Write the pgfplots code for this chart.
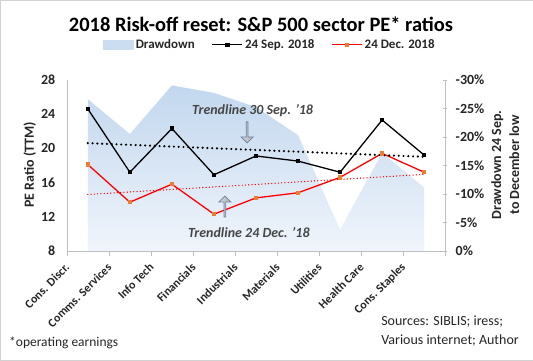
\documentclass[border=0pt]{standalone}
\usepackage{pgfplots}
\pgfplotsset{compat=1.18}
\usepackage{fontspec}
\setmainfont{Carlito}
\usetikzlibrary{shapes.arrows}
\definecolor{ddtop}{HTML}{C2D7EE}
\definecolor{ddbot}{HTML}{F0F5FB}
\definecolor{axgray}{HTML}{BFBFBF}
\definecolor{mkorange}{HTML}{ED7D31}
\definecolor{txtgray}{HTML}{262626}
\definecolor{arrowline}{HTML}{6F83A6}
\begin{document}
\begin{tikzpicture}[x=1bp,y=1bp]
\path[use as bounding box, draw=axgray!70, fill=white] (0.5,0.5) rectangle (532.5,360.5);
% drawdown (right axis)
\begin{axis}[at={(67bp,110bp)}, anchor=south west, scale only axis,
  width=378bp, height=171bp,
  xmin=-0.5, xmax=8.5, ymin=-30, ymax=0, y dir=reverse,
  axis x line=none, axis y line*=right,
  y axis line style={draw=axgray},
  ytick={-30,-25,-20,-15,-10,-5,0},
  yticklabels={-30\%,-25\%,-20\%,-15\%,-10\%,-5\%,0\%},
  ytick style={draw=axgray}, major tick length=4bp, tick align=center,
  yticklabel style={font=\fontsize{14}{16}\selectfont\bfseries, text=txtgray, xshift=5bp},
  /pgf/number format/assume math mode=true]
\addplot[draw=none, top color=ddtop, bottom color=ddbot] coordinates {
 (0,-26.6) (1,-20.5) (2,-29.0) (3,-27.7) (4,-25.2) (5,-20.3) (6,-3.7) (7,-17.2) (8,-11.1)} \closedcycle;
\end{axis}
% PE (left axis)
\begin{axis}[at={(67bp,110bp)}, anchor=south west, scale only axis,
  width=378bp, height=171bp,
  xmin=-0.5, xmax=8.5, ymin=8, ymax=28,
  axis y line*=left, axis x line*=bottom,
  axis line style={draw=axgray, -},
  ytick={8,12,16,20,24,28}, ytick style={draw=none},
  xtick={0,...,8}, x tick style={draw=none},
  xticklabels={Cons. Discr.,Comms. Services,Info Tech,Financials,Industrials,Materials,Utilities,Health Care,Cons. Staples},
  extra x ticks={-0.5,0.5,1.5,2.5,3.5,4.5,5.5,6.5,7.5,8.5},
  extra x tick labels={},
  extra x tick style={x tick style={draw=axgray}, major tick length=5bp, tick align=outside},
  xticklabel style={xshift=-18bp, yshift=-12bp, rotate=45, anchor=east, font=\fontsize{12}{14}\selectfont\bfseries, text=txtgray},
  yticklabel style={font=\fontsize{14}{16}\selectfont\bfseries, text=txtgray, xshift=-8bp},
  /pgf/number format/assume math mode=true,
  clip=false,
  legend style={at={(0.537,1.205)}, anchor=center, draw=none, fill=none, legend columns=3,
    font=\fontsize{13}{15}\selectfont\bfseries, text=txtgray,
    /tikz/every even column/.append style={column sep=15bp}},
  legend image code/.code={\draw[mark repeat=2,mark phase=2] plot coordinates {(0bp,0bp) (15bp,0bp) (30bp,0bp)};}
]
\addlegendimage{legend image code/.code={\fill[ddtop!85] (0bp,-4.5bp) rectangle (30bp,4.5bp);}}
\addlegendentry{Drawdown}
\addplot[black, line width=1.3pt, mark=square*, mark size=1.5pt] coordinates {
 (0,24.6) (1,17.2) (2,22.3) (3,16.9) (4,19.1) (5,18.5) (6,17.2) (7,23.3) (8,19.2)};
\addlegendentry{24 Sep. 2018}
\addplot[red, line width=1.3pt, mark=square*, mark size=1.5pt, mark options={fill=mkorange, draw=mkorange}] coordinates {
 (0,18.1) (1,13.7) (2,15.8) (3,12.3) (4,14.2) (5,14.8) (6,16.6) (7,19.4) (8,17.2)};
\addlegendentry{24 Dec. 2018}
\addplot[forget plot, black, line width=2.4pt, line cap=round, dash pattern=on 0pt off 4.8pt] coordinates {(0,20.6) (8,19.0)};
\addplot[forget plot, red, line width=1.4pt, line cap=round, dash pattern=on 0pt off 3.3pt] coordinates {(0,14.6) (8,16.95)};
\node[font=\fontsize{14}{16}\selectfont\bfseries\itshape, text=txtgray!85] at (axis cs:3.92,24.4) {Trendline 30 Sep. '18};
\node[font=\fontsize{14}{16}\selectfont\bfseries\itshape, text=txtgray!85] at (axis cs:3.83,10.1) {Trendline 24 Dec. '18};
\node[single arrow, draw=arrowline, line width=0.8pt, left color=gray!30, right color=gray!65, rotate=-90,
  minimum height=21bp, minimum width=12bp, single arrow head extend=2.5bp, inner sep=0pt] at (axis cs:3.79,21.9) {};
\node[single arrow, draw=arrowline, line width=0.8pt, left color=gray!30, right color=gray!65, rotate=90,
  minimum height=21bp, minimum width=12bp, single arrow head extend=2.5bp, inner sep=0pt] at (axis cs:3.26,13.15) {};
\end{axis}
% texts
\node[font=\fontsize{20.5}{23}\selectfont\bfseries] at (261,336) {2018 Risk-off reset: S\&P 500 sector PE* ratios};
\node[font=\fontsize{14}{16}\selectfont\bfseries, text=txtgray, rotate=90] at (30,196) {PE Ratio (TTM)};
\node[font=\fontsize{14}{18}\selectfont\bfseries, text=txtgray, rotate=90, align=center] at (505,196) {Drawdown 24 Sep.\\to December low};
\node[font=\fontsize{13.5}{15}\selectfont, text=txtgray, anchor=west] at (6,18) {*operating earnings};
\node[font=\fontsize{14}{19}\selectfont, text=txtgray, anchor=north west, align=left, inner sep=0pt] at (381,45) {Sources: SIBLIS; iress;\\Various internet; Author};
\end{tikzpicture}
\end{document}
